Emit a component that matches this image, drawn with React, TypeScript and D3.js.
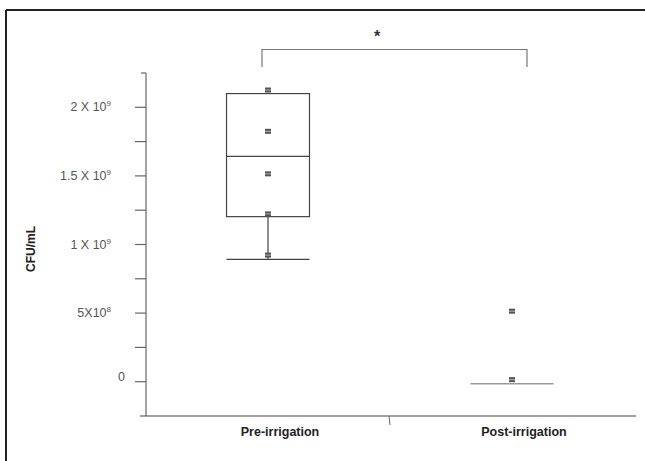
import React from "react";
import * as d3 from "d3";

const categories = ["Pre-irrigation", "Post-irrigation"];
// box stats [whiskerLow, q1, median, q3, whiskerHigh]
const boxLow = [0.892e9, -0.015e9];
const boxQ1 = [1.203e9, -0.015e9];
const boxMedian = [1.642e9, -0.015e9];
const boxQ3 = [2.1e9, -0.015e9];
const boxHigh = [2.1e9, -0.015e9];
const prePoints = [2.126e9, 1.825e9, 1.515e9, 1.223e9, 0.923e9];
const postPoints = [0.514e9, 0.015e9];
const majorTicks = [0, 0.5e9, 1e9, 1.5e9, 2e9];
const tickBase = ["0", "5X10", "1 X 10", "1.5 X 10", "2 X 10"];
const tickExp = ["", "8", "9", "9", "9"];
const minorTicks = [0.25e9, 0.75e9, 1.25e9, 1.75e9];

const W = 645;
const H = 461;

export default function App() {
  const y = d3.scaleLinear().domain([-0.25e9, 2.25e9]).range([416, 73]);
  const x = d3.scaleBand().domain(categories).range([146, 634]).padding(0);
  const bw = x.bandwidth() * 0.34;
  const cx = (c: string) => (x(c) as number) + x.bandwidth() / 2;
  const axisX = 146;
  const allTicks = [...majorTicks, ...minorTicks];
  const pointsBy = [prePoints, postPoints];
  const leftB = cx(categories[0]) - 6;
  const rightB = cx(categories[1]) + 15;

  return (
    <svg
      width={W}
      height={H}
      style={{ position: "absolute", left: 0, top: 0, background: "#fff" }}
      fontFamily="'Liberation Sans', Arial, sans-serif"
    >
      {/* frame */}
      <line x1={6} y1={10} x2={W} y2={10} stroke="#222" strokeWidth={2} />
      <line x1={6} y1={10} x2={6} y2={H} stroke="#222" strokeWidth={2} />

      {/* y axis */}
      <line x1={axisX} y1={y(2.25e9)} x2={axisX} y2={y(-0.25e9)} stroke="#666" strokeWidth={1.2} />
      <line x1={axisX - 5} y1={y(2.25e9)} x2={axisX} y2={y(2.25e9)} stroke="#666" strokeWidth={1.2} />
      {allTicks.map((t, i) => (
        <line key={i} x1={axisX - 11} x2={axisX} y1={y(t)} y2={y(t)} stroke="#666" strokeWidth={1.2} />
      ))}
      {majorTicks.map((t, i) => (
        <text
          key={i}
          x={t === 0 ? 125 : 111}
          y={y(t) + (t === 0 ? -1 : 4)}
          textAnchor="end"
          fontSize={12.5}
          fill="#555"
        >
          {tickBase[i]}
          {tickExp[i] && (
            <tspan fontSize={8} dy={-5}>
              {tickExp[i]}
            </tspan>
          )}
        </text>
      ))}
      <text
        transform={`translate(35,${249}) rotate(-90)`}
        textAnchor="middle"
        fontSize={12}
        fontWeight="bold"
        fill="#222"
      >
        CFU/mL
      </text>

      {/* x axis */}
      <line x1={140} y1={416} x2={636} y2={416} stroke="#444" strokeWidth={1.2} />
      <line x1={389} y1={416} x2={390} y2={425} stroke="#666" strokeWidth={1} />
      {categories.map((c) => (
        <text key={c} x={cx(c) + 12} y={436} textAnchor="middle" fontSize={12.5} fontWeight="bold" fill="#222">
          {c}
        </text>
      ))}

      {/* boxes */}
      {categories.map((c, i) => {
        const m = cx(c);
        if (i === 0) {
          return (
            <g key={c} stroke="#444" strokeWidth={1.2} fill="none">
              <rect x={m - bw / 2} y={y(boxQ3[i])} width={bw} height={y(boxQ1[i]) - y(boxQ3[i])} />
              <line x1={m - bw / 2} x2={m + bw / 2} y1={y(boxMedian[i])} y2={y(boxMedian[i])} />
              <line x1={m} x2={m} y1={y(boxQ1[i])} y2={y(boxLow[i])} />
              <line x1={m - bw / 2} x2={m + bw / 2} y1={y(boxLow[i])} y2={y(boxLow[i])} />
              <line x1={m} x2={m} y1={y(boxQ3[i])} y2={y(boxHigh[i])} />
            </g>
          );
        }
        return (
          <g key={c} stroke="#999" strokeWidth={1.5} fill="none">
            <line x1={m - bw / 2} x2={m + bw / 2} y1={y(boxMedian[i])} y2={y(boxMedian[i])} />
          </g>
        );
      })}

      {/* points */}
      {categories.map((c, i) =>
        pointsBy[i].map((v, j) => (
          <g key={c + j}>
            <rect x={cx(c) - 3} y={y(v) - 2.5} width={6} height={5} fill="#555" />
            <line x1={cx(c) - 3} x2={cx(c) + 3} y1={y(v)} y2={y(v)} stroke="#ccc" strokeWidth={0.8} />
          </g>
        ))
      )}

      {/* significance bracket */}
      <path
        d={`M${leftB},67 V49.5 H${rightB} V67`}
        fill="none"
        stroke="#777"
        strokeWidth={1.2}
      />
      <text x={377} y={42} textAnchor="middle" fontSize={16} fontWeight="bold" fill="#333">
        *
      </text>
    </svg>
  );
}
